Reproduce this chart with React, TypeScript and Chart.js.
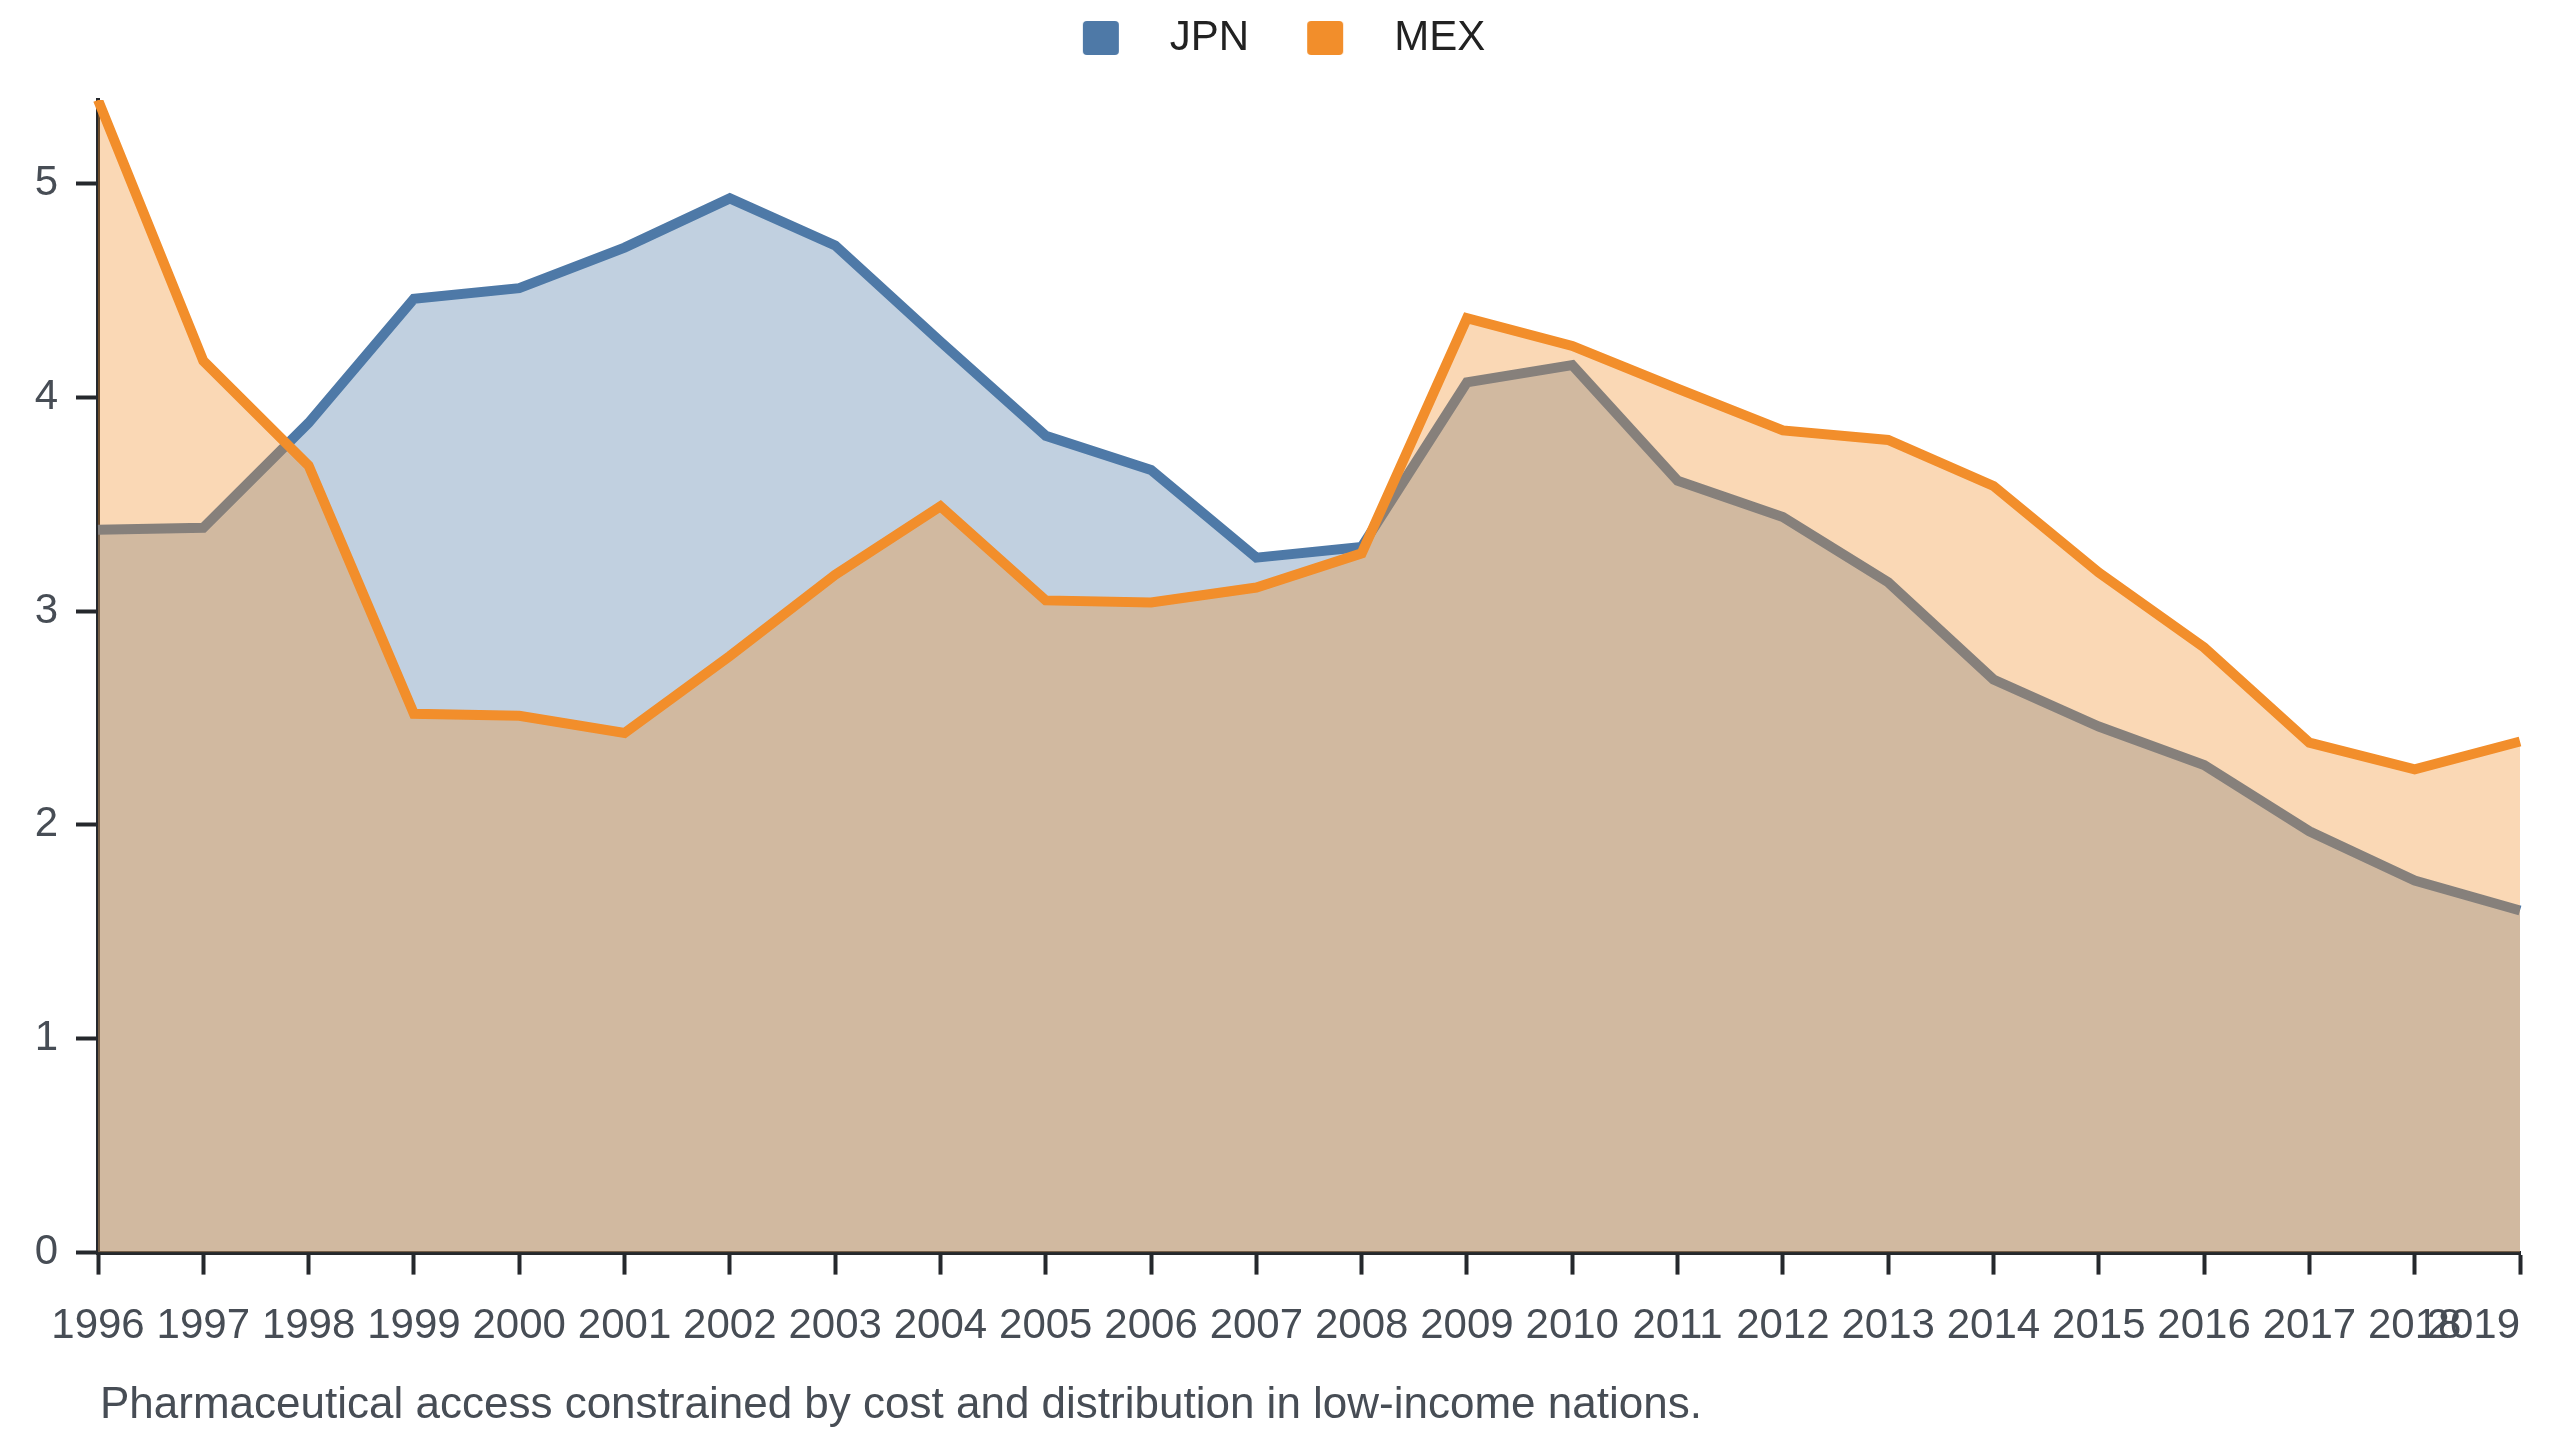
import { useEffect, useRef } from "react";
import { Chart, registerables } from "chart.js";

Chart.register(...registerables);

// data
const years = [
  "1996", "1997", "1998", "1999", "2000", "2001", "2002", "2003",
  "2004", "2005", "2006", "2007", "2008", "2009", "2010", "2011",
  "2012", "2013", "2014", "2015", "2016", "2017", "2018", "2019",
];
const jpnValues = [
  3.38, 3.39, 3.88, 4.46, 4.51, 4.7, 4.93, 4.71,
  4.26, 3.82, 3.66, 3.25, 3.3, 4.07, 4.15, 3.61,
  3.44, 3.135, 2.68, 2.46, 2.28, 1.97, 1.74, 1.6,
];
const mexValues = [
  5.39, 4.17, 3.68, 2.52, 2.51, 2.43, 2.79, 3.17,
  3.49, 3.05, 3.04, 3.11, 3.27, 4.37, 4.24, 4.04,
  3.845, 3.8, 3.585, 3.18, 2.83, 2.385, 2.26, 2.39,
];
const seriesNames = ["JPN", "MEX"];
const caption =
  "Pharmaceutical access constrained by cost and distribution in low-income nations.";

const FONT = '"Liberation Sans", Arial, Helvetica, sans-serif';
const LINE_COLORS = ["#4e79a7", "#f28e2b"];
const FILL_COLORS = ["rgba(78,121,167,0.35)", "rgba(242,142,43,0.35)"];
const AXIS_COLOR = "#25282c";
const TICK_COLOR = "#474d55";

// legend swatch: a rounded square with empty space on its left, so the
// gap between items and the gap to the text come out like the reference
function makeSwatch(color: string) {
  const c = document.createElement("canvas");
  c.width = 114;
  c.height = 34;
  const g = c.getContext("2d");
  if (g) {
    const x = 48, y = 0, w = 36, h = 34, r = 4;
    g.fillStyle = color;
    g.beginPath();
    g.moveTo(x + r, y);
    g.lineTo(x + w - r, y);
    g.quadraticCurveTo(x + w, y, x + w, y + r);
    g.lineTo(x + w, y + h - r);
    g.quadraticCurveTo(x + w, y + h, x + w - r, y + h);
    g.lineTo(x + r, y + h);
    g.quadraticCurveTo(x, y + h, x, y + h - r);
    g.lineTo(x, y + r);
    g.quadraticCurveTo(x, y, x + r, y);
    g.fill();
  }
  return c;
}

const legendGap = {
  id: "legendGap",
  beforeUpdate(chart: any) {
    const legend = chart.legend;
    if (!legend || legend._gapPatched) return;
    const fit = legend.fit;
    legend.fit = function () {
      fit.call(this);
      this.height += 31;
    };
    legend._gapPatched = true;
  },
};

const chartExtras = {
  id: "chartExtras",
  beforeDraw(chart: any) {
    // last year label sits right-aligned on its tick, as in the reference
    const items = chart.scales.x.getLabelItems();
    if (items.length) items[items.length - 1].options.textAlign = "right";
  },
  afterDraw(chart: any) {
    const { ctx, chartArea } = chart;
    ctx.save();
    ctx.font = `44px ${FONT}`;
    ctx.fillStyle = TICK_COLOR;
    ctx.textAlign = "left";
    ctx.textBaseline = "alphabetic";
    ctx.fillText(caption, chartArea.left + 2, chart.height - 22);
    ctx.restore();
  },
};

export default function App() {
  const canvasRef = useRef<HTMLCanvasElement>(null);

  useEffect(() => {
    document.body.style.margin = "0";
    if (!canvasRef.current) return;

    Chart.defaults.font.family = FONT;
    const swatches = LINE_COLORS.map(makeSwatch);
    const yMax = Math.max(...jpnValues, ...mexValues);

    const chart = new Chart(canvasRef.current, {
      type: "line",
      data: {
        labels: years,
        datasets: [
          {
            label: seriesNames[0],
            data: jpnValues,
            borderColor: LINE_COLORS[0],
            backgroundColor: FILL_COLORS[0],
            fill: "origin",
            borderWidth: 10,
            pointRadius: 0,
            pointHoverRadius: 0,
            tension: 0,
            order: 1,
          },
          {
            label: seriesNames[1],
            data: mexValues,
            borderColor: LINE_COLORS[1],
            backgroundColor: FILL_COLORS[1],
            fill: "origin",
            borderWidth: 10,
            pointRadius: 0,
            pointHoverRadius: 0,
            tension: 0,
            order: 0,
          },
        ],
      },
      options: {
        animation: false,
        responsive: true,
        maintainAspectRatio: false,
        devicePixelRatio: 1,
        events: [],
        layout: { padding: { top: 7, left: 0, right: 40, bottom: 61 } },
        plugins: {
          tooltip: { enabled: false },
          legend: {
            position: "top",
            labels: {
              usePointStyle: true,
              pointStyleWidth: 114,
              boxHeight: 34,
              padding: 10,
              color: "#222222",
              font: { size: 42, family: FONT },
              generateLabels: (c: any) => {
                const items = Chart.defaults.plugins.legend.labels.generateLabels(c);
                return items
                  .sort((a: any, b: any) => a.datasetIndex - b.datasetIndex)
                  .map((it: any) => ({ ...it, pointStyle: swatches[it.datasetIndex] }));
              },
            },
          },
        },
        scales: {
          x: {
            type: "category",
            offset: false,
            grid: {
              display: true,
              drawOnChartArea: false,
              drawTicks: true,
              tickLength: 22,
              tickWidth: 4,
              tickColor: AXIS_COLOR,
            },
            border: { display: true, color: AXIS_COLOR, width: 4 },
            ticks: {
              autoSkip: false,
              maxRotation: 0,
              minRotation: 0,
              padding: 27,
              color: TICK_COLOR,
              font: { size: 42 },
            },
            afterFit(scale: any) {
              scale.paddingRight = 0;
            },
          },
          y: {
            min: 0,
            max: yMax,
            grid: {
              display: true,
              drawOnChartArea: false,
              drawTicks: true,
              tickLength: 22,
              tickWidth: 4,
              tickColor: AXIS_COLOR,
            },
            border: { display: true, color: AXIS_COLOR, width: 4 },
            ticks: {
              stepSize: 1,
              includeBounds: false,
              padding: 18,
              color: TICK_COLOR,
              font: { size: 42 },
            },
            afterFit(scale: any) {
              scale.width = 98;
            },
          },
        },
      },
      plugins: [legendGap, chartExtras],
    });

    return () => {
      chart.destroy();
    };
  }, []);

  return (
    <div style={{ width: "2560px", height: "1440px", position: "relative", background: "#ffffff" }}>
      <canvas ref={canvasRef} />
    </div>
  );
}
